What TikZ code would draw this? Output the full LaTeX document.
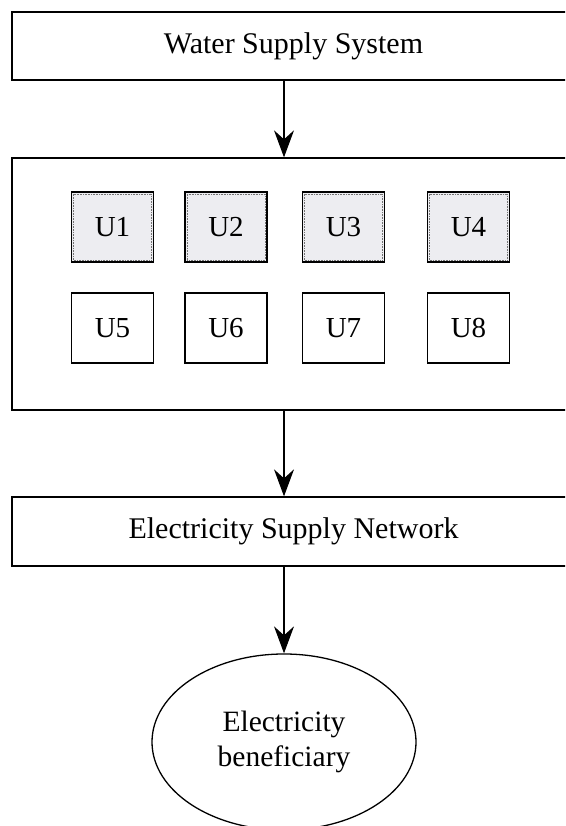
\documentclass[tikz,border=0pt]{standalone}
\usepackage{fontspec}
\setmainfont{Liberation Serif}
\usetikzlibrary{arrows.meta,shapes.geometric}
\definecolor{ushade}{RGB}{237,237,241}
\tikzset{
  x=1pt,y=1pt,
  widebox/.style={draw,line width=1.3pt,rectangle,minimum width=563pt,inner sep=0pt,
    font=\fontsize{30}{36}\selectfont},
  ubox/.style={draw,line width=1.8pt,rectangle,minimum width=82pt,minimum height=70pt,inner sep=0pt,
    font=\fontsize{29}{34}\selectfont},
  ushaded/.style={ubox,fill=ushade},
  flow/.style={line width=1.1pt,-{Stealth[length=27pt,width=20pt,inset=9pt]}},
  inner/.style={densely dotted,line width=0.6pt,black!55}
}
\begin{document}
\begin{tikzpicture}
\useasboundingbox (0,0) rectangle (565,826);
\clip (0,0) rectangle (565,826);
\fill[white] (0,0) rectangle (565,826);
% main boxes
\node[widebox,minimum height=68pt] (wss) at (293.5,780) {Water Supply System};
\node[widebox,minimum height=252pt] (units) at (293.5,542) {};
\node[widebox,minimum height=69pt] (esn) at (293.5,294.5) {Electricity Supply Network};
\node[draw,ellipse,line width=1.3pt,minimum width=264pt,minimum height=176pt,inner sep=0pt,
      align=center,font=\fontsize{29.5}{35}\selectfont] (ben) at (284,84) {Electricity\\beneficiary};
% unit boxes
\node[ushaded] (u1) at (112.5,599) {U1};
\node[ushaded] (u2) at (226,599) {U2};
\node[ushaded] (u3) at (343.5,599) {U3};
\node[ushaded] (u4) at (468.5,599) {U4};
\node[ubox] (u5) at (112.5,498) {U5};
\node[ubox] (u6) at (226,498) {U6};
\node[ubox] (u7) at (343.5,498) {U7};
\node[ubox] (u8) at (468.5,498) {U8};
\foreach \u in {u1,u2,u3,u4}{
  \draw[inner] ([shift={(3,3)}]\u.south west) rectangle ([shift={(-3,-3)}]\u.north east);
}
% connectors
\draw[flow] (wss.south -| ben.north) -- (units.north -| ben.north);
\draw[flow] (units.south -| ben.north) -- (esn.north -| ben.north);
\draw[flow] (esn.south -| ben.north) -- (ben.north);
\end{tikzpicture}
\end{document}
